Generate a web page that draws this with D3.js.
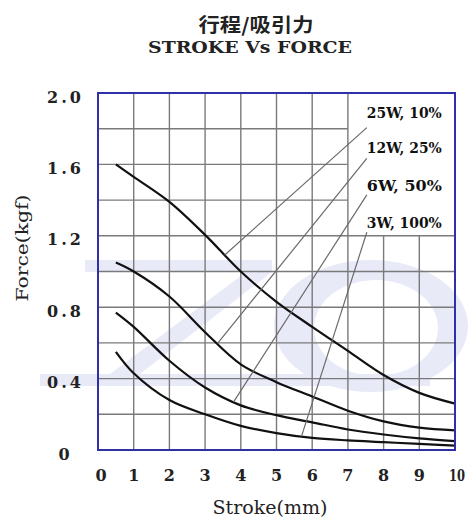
<!DOCTYPE html>
<html><head><meta charset="utf-8">
<script src="https://cdn.jsdelivr.net/npm/d3@7"></script>
<style>body{margin:0;background:#fff}svg{display:block}</style>
</head><body><svg id="c" width="471" height="518"></svg>
<script>
// ---- data ----
const titleCN = "行程/吸引力";
const titleEN = "STROKE Vs FORCE";
const xLabel = "Stroke(mm)";
const yLabel = "Force(kgf)";
const seriesNames = ["25W, 10%", "12W, 25%", "6W, 50%", "3W, 100%"];
const strokeValues = [0.5, 1, 2, 3, 4, 5, 6, 7, 8, 9, 10];
const force25W = [1.60, 1.53, 1.39, 1.205, 1.00, 0.83, 0.69, 0.555, 0.42, 0.32, 0.26];
const force12W = [1.05, 1.00, 0.86, 0.66, 0.48, 0.38, 0.30, 0.22, 0.16, 0.125, 0.11];
const force6W  = [0.77, 0.69, 0.50, 0.35, 0.25, 0.195, 0.155, 0.115, 0.087, 0.065, 0.05];
const force3W  = [0.55, 0.43, 0.28, 0.20, 0.135, 0.095, 0.068, 0.054, 0.044, 0.034, 0.025];
const leaderStroke = [3.55, 3.35, 3.8, 5.7];
const xTicks = [0, 1, 2, 3, 4, 5, 6, 7, 8, 9, 10];
const yTicks = [0, 0.4, 0.8, 1.2, 1.6, 2.0];
const yTickLabels = ["0", "0.4", "0.8", "1.2", "1.6", "2.0"];
const yGrid = [0.2, 0.4, 0.6, 0.8, 1.0, 1.2, 1.4, 1.6, 1.8];
const xGrid = [1, 2, 3, 4, 5, 6, 7, 8, 9];

// ---- layout ----
const L = 98, R = 455, T = 93, B = 450;
const boxX = 7, boxY = 1.2;              // blank label area (no grid)
const labelStroke = 7.53;
const labelForce = [1.89, 1.69, 1.48, 1.27];
const leaderDy = [15, 10, 9, 9];
const serif = "'DejaVu Serif', 'Liberation Serif', serif";

const svg = d3.select("#c");
const x = d3.scaleLinear().domain([0, 10]).range([L, R]);
const y = d3.scaleLinear().domain([0, 2]).range([B, T]);

// faint watermark (decoration)
const wm = svg.append("g").attr("fill", "#e9eaf8");
wm.append("path").attr("d",
  "M85,260 L272,260 L272,272 L140,374 L430,374 L430,386 L40,386 L40,374 L110,374 L246,272 L85,272 Z");
wm.append("path").attr("fill-rule", "evenodd").attr("d",
  "M274,326 a97,66 0 1,0 194,0 a97,66 0 1,0 -194,0 Z " +
  "M314,328 a62,48 0 1,0 124,0 a62,48 0 1,0 -124,0 Z");

// blank label box
svg.append("rect").attr("x", x(boxX)).attr("y", T).attr("width", R - x(boxX)).attr("height", y(boxY) - T)
  .attr("fill", "#fff");

// grid
const grid = svg.append("g").attr("stroke", "#7a7a7a").attr("stroke-width", 1.4);
grid.selectAll("line.v").data(xGrid).join("line")
  .attr("x1", d => x(d)).attr("x2", d => x(d))
  .attr("y1", d => d > boxX ? y(boxY) : T).attr("y2", B);
grid.selectAll("line.h").data(yGrid).join("line")
  .attr("y1", d => y(d)).attr("y2", d => y(d))
  .attr("x1", L).attr("x2", d => d > boxY + 1e-9 ? x(boxX) : R);

// series curves
const series = [force25W, force12W, force6W, force3W];
const line = d3.line().x(d => x(d[0])).y(d => y(d[1])).curve(d3.curveCatmullRom.alpha(0.5));
svg.append("g").selectAll("path").data(series).join("path")
  .attr("d", s => line(strokeValues.map((v, i) => [v, s[i]])))
  .attr("fill", "none").attr("stroke", "#111").attr("stroke-width", 2.2);

// leaders + labels
function interp(s, t) {
  for (let i = 0; i < strokeValues.length - 1; i++) {
    if (t >= strokeValues[i] && t <= strokeValues[i + 1]) {
      const f = (t - strokeValues[i]) / (strokeValues[i + 1] - strokeValues[i]);
      return s[i] + f * (s[i + 1] - s[i]);
    }
  }
  return s[s.length - 1];
}
const lg = svg.append("g");
series.forEach((s, i) => {
  lg.append("line")
    .attr("x1", x(labelStroke)).attr("y1", y(labelForce[i]) + leaderDy[i])
    .attr("x2", x(leaderStroke[i])).attr("y2", y(interp(s, leaderStroke[i])))
    .attr("stroke", "#6a6a6a").attr("stroke-width", 1.2);
  lg.append("text").attr("x", x(labelStroke)).attr("y", y(labelForce[i]))
    .attr("dominant-baseline", "central")
    .attr("font-family", serif).attr("font-weight", "bold").attr("font-size", 15)
    .attr("textLength", 75).attr("lengthAdjust", "spacingAndGlyphs")
    .attr("fill", "#111").text(seriesNames[i]);
});

// frame
svg.append("rect").attr("x", L).attr("y", T).attr("width", R - L).attr("height", B - T)
  .attr("fill", "none").attr("stroke", "#2f2fa8").attr("stroke-width", 2);

// axes tick labels
svg.append("g").selectAll("text").data(xTicks).join("text")
  .attr("x", (d, i) => x(d) + (i === 0 ? 3 : i === xTicks.length - 1 ? 2 : 0))
  .attr("y", 475).attr("text-anchor", "middle").attr("dominant-baseline", "central")
  .attr("font-family", serif).attr("font-weight", "bold").attr("font-size", 16).attr("fill", "#222")
  .attr("textLength", (d, i) => i === xTicks.length - 1 ? 16 : null)
  .attr("lengthAdjust", "spacingAndGlyphs")
  .text(d => d);
svg.append("g").selectAll("text").data(yTicks).join("text")
  .attr("x", 64).attr("y", d => y(d) + 4)
  .attr("text-anchor", "middle").attr("dominant-baseline", "central")
  .attr("font-family", serif).attr("font-weight", "bold").attr("font-size", 16).attr("fill", "#222")
  .each(function (d, i) {
    const t = d3.select(this).text(yTickLabels[i]);
    if (yTickLabels[i].length > 1) t.attr("textLength", 34).attr("lengthAdjust", "spacing");
  });

// axis titles
svg.append("text").attr("x", 270).attr("y", 507).attr("text-anchor", "middle")
  .attr("dominant-baseline", "central")
  .attr("font-family", serif).attr("font-size", 18).attr("fill", "#222")
  .attr("textLength", 115).attr("lengthAdjust", "spacingAndGlyphs").text(xLabel);
svg.append("text").attr("transform", "translate(22,248) rotate(-90)").attr("text-anchor", "middle")
  .attr("dominant-baseline", "central")
  .attr("font-family", serif).attr("font-size", 17).attr("fill", "#222")
  .attr("textLength", 107).attr("lengthAdjust", "spacingAndGlyphs").text(yLabel);

// titles
svg.append("text").attr("x", 256).attr("y", 23).attr("text-anchor", "middle")
  .attr("dominant-baseline", "central")
  .attr("font-family", "'Noto Sans CJK SC', sans-serif").attr("font-weight", "bold").attr("font-size", 19)
  .attr("fill", "#222").attr("textLength", 115).attr("lengthAdjust", "spacingAndGlyphs").text(titleCN);
svg.append("text").attr("x", 250).attr("y", 47).attr("text-anchor", "middle")
  .attr("dominant-baseline", "central")
  .attr("font-family", serif).attr("font-weight", "bold").attr("font-size", 17)
  .attr("fill", "#222").attr("textLength", 204).attr("lengthAdjust", "spacingAndGlyphs").text(titleEN);
</script></body></html>
